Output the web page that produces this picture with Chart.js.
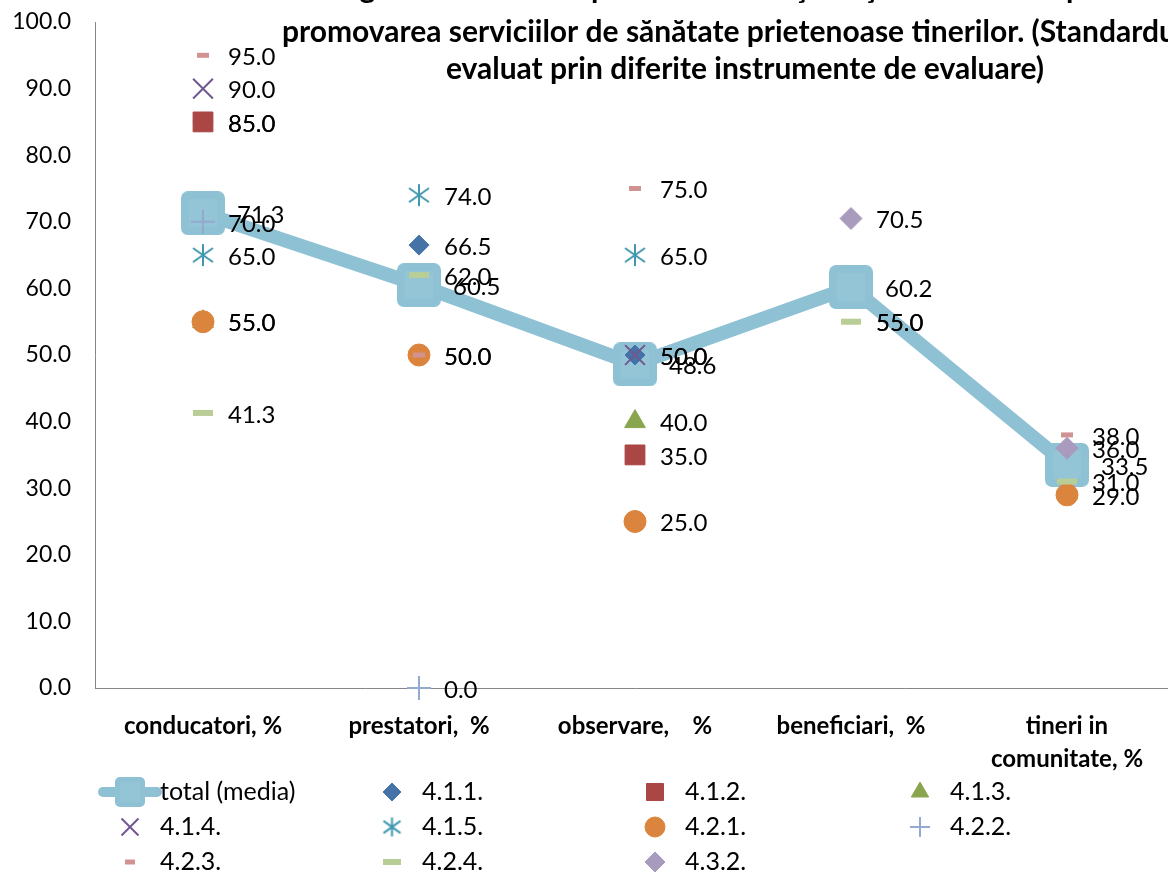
<!DOCTYPE html>
<html><head><meta charset="utf-8">
<script src="https://cdn.jsdelivr.net/npm/chart.js@4/dist/chart.umd.min.js"></script>
<style>
html,body{margin:0;padding:0;overflow:hidden;background:#fff;width:1168px;height:873px}
#wrap{position:absolute;left:0;top:0;width:1180px;height:873px}
</style></head>
<body><div id="wrap"><canvas id="c" width="1180" height="873"></canvas></div>
<script>
// ---- data ----
const categories = ["conducatori, %", "prestatori,  %", "observare,    %", "beneficiari,  %", ["tineri in", "comunitate, %"]];
const seriesNames = ["total (media)", "4.1.1.", "4.1.2.", "4.1.3.", "4.1.4.", "4.1.5.", "4.2.1.", "4.2.2.", "4.2.3.", "4.2.4.", "4.3.2."];
const totalMedia = [71.3, 60.5, 48.6, 60.2, 33.5];
const s411 = [85.0, 66.5, 50.0, null, null];
const s412 = [85.0, null, 35.0, null, null];
const s413 = [55.0, null, 40.0, null, null];
const s414 = [90.0, null, 50.0, null, null];
const s415 = [65.0, 74.0, 65.0, null, null];
const s421 = [55.0, 50.0, 25.0, null, 29.0];
const s422 = [70.0, 0.0, null, null, null];
const s423 = [95.0, 50.0, 75.0, 55.0, 38.0];
const s424 = [41.3, 62.0, null, 55.0, 31.0];
const s432 = [null, null, null, 70.5, 36.0];
const yTicks = [0, 10, 20, 30, 40, 50, 60, 70, 80, 90, 100];
const titleLines = [
  "Fig. 4. Gradul de implicare a instituţiilor şi comunitatea pentru",
  "promovarea serviciilor de sănătate prietenoase tinerilor. (Standardul 4",
  "evaluat prin diferite instrumente de evaluare)"
];

// ---- custom marker images (style only) ----
function roundSquare(size, rad, color, inner) {
  const c = document.createElement('canvas');
  c.width = size; c.height = size;
  const g = c.getContext('2d');
  g.fillStyle = color;
  g.beginPath();
  if (g.roundRect) g.roundRect(0, 0, size, size, rad); else g.rect(0, 0, size, size);
  g.fill();
  const m = Math.round(size * 0.18);
  g.fillStyle = inner;
  g.fillRect(m, m, size - 2 * m, size - 2 * m);
  return c;
}
function asterisk(w, h, color, lw) {
  const c = document.createElement('canvas');
  c.width = w + 4; c.height = h + 4;
  const g = c.getContext('2d');
  const cx = c.width / 2, cy = c.height / 2;
  g.strokeStyle = color; g.lineWidth = lw;
  g.beginPath();
  g.moveTo(cx, cy - h / 2); g.lineTo(cx, cy + h / 2);
  g.moveTo(cx - w / 2, cy - h * 0.32); g.lineTo(cx + w / 2, cy + h * 0.32);
  g.moveTo(cx - w / 2, cy + h * 0.32); g.lineTo(cx + w / 2, cy - h * 0.32);
  g.stroke();
  return c;
}
const totalMarker = roundSquare(44, 7, '#8fc1d4', '#93c5d7');
const totalLegendMarker = roundSquare(30, 5, '#8fc1d4', '#93c5d7');
const starMarker = asterisk(20, 22, '#4198af', 2);
const starLegendMarker = asterisk(17, 19, '#4198af', 2);

// ---- styles ----
const values = [totalMedia, s411, s412, s413, s414, s415, s421, s422, s423, s424, s432];
const styles = [
  {color: '#8fc1d4', style: totalMarker, lstyle: totalLegendMarker, r: 22, bw: 0, line: 14, off: 34, lr: 15},
  {color: '#4572a7', style: 'rectRot', r: 10, bw: 1, off: 25, lr: 9},
  {color: '#aa4643', style: 'rect', r: 14, bw: 1, off: 25, lr: 12},
  {color: '#89a54e', style: 'triangle', r: 12, bw: 1, off: 25, lr: 10},
  {color: '#71588f', style: 'crossRot', r: 14, bw: 2, off: 25, lr: 12},
  {color: '#4198af', style: starMarker, lstyle: starLegendMarker, r: 11, bw: 2, off: 25, lr: 10},
  {color: '#db843d', style: 'circle', r: 11, bw: 1, off: 25, lr: 10},
  {color: '#93a9cf', style: 'cross', r: 12, bw: 2, off: 25, lr: 10},
  {color: '#d19392', style: 'line', r: 6, bw: 5, off: 25, lr: 5},
  {color: '#b9cd96', style: 'line', r: 10, bw: 6, off: 25, lr: 9},
  {color: '#a99bbd', style: 'rectRot', r: 11, bw: 1, off: 25, lr: 10}
];

const datasets = values.map((v, i) => {
  const s = styles[i];
  return {
    label: seriesNames[i],
    data: v,
    order: 50 - i,
    clip: false,
    showLine: !!s.line,
    borderColor: s.color,
    backgroundColor: s.color,
    borderWidth: s.line || 0,
    pointStyle: s.style,
    pointRadius: s.r,
    pointHoverRadius: s.r,
    pointBorderWidth: s.bw,
    pointBorderColor: s.color,
    pointBackgroundColor: s.color,
    tension: 0
  };
});

const FONT = 'Lato';

const labelPlugin = {
  id: 'valLabels',
  afterDatasetsDraw(chart) {
    const ctx = chart.ctx;
    ctx.save();
    ctx.font = '24px ' + FONT;
    ctx.fillStyle = '#000';
    ctx.textBaseline = 'middle';
    ctx.textAlign = 'left';
    chart.data.datasets.forEach((ds, i) => {
      const meta = chart.getDatasetMeta(i);
      meta.data.forEach((pt, j) => {
        const v = ds.data[j];
        if (v === null || v === undefined) return;
        ctx.fillText(v.toFixed(1), pt.x + styles[i].off, pt.y + 2);
      });
    });
    ctx.restore();
  }
};

const titlePlugin = {
  id: 'topTitle',
  afterDraw(chart) {
    const ctx = chart.ctx;
    ctx.save();
    ctx.font = 'bold 30px ' + FONT;
    ctx.fillStyle = '#000';
    ctx.textAlign = 'center';
    ctx.textBaseline = 'middle';
    const ys = [-12, 32, 69];
    titleLines.forEach((t, k) => ctx.fillText(t, 745, ys[k]));
    ctx.restore();
  }
};

const legendPlugin = {
  id: 'gridLegend',
  afterDraw(chart) {
    const ctx = chart.ctx;
    ctx.save();
    const colX = [130, 392, 655, 920];
    const rowY = [792, 827, 862];
    chart.data.datasets.forEach((ds, i) => {
      const s = styles[i];
      const x = colX[i % 4], y = rowY[Math.floor(i / 4)];
      ctx.strokeStyle = s.color;
      ctx.fillStyle = s.color;
      if (s.line) {
        ctx.lineWidth = 10;
        ctx.lineCap = 'round';
        ctx.beginPath(); ctx.moveTo(x - 27, y); ctx.lineTo(x + 27, y); ctx.stroke();
      }
      ctx.lineWidth = s.bw;
      ctx.lineCap = 'butt';
      Chart.helpers.drawPoint(ctx, {pointStyle: s.lstyle || s.style, radius: s.lr, rotation: 0, borderWidth: s.bw}, x, y);
      ctx.font = '25px ' + FONT;
      ctx.fillStyle = '#000';
      ctx.textAlign = 'left';
      ctx.textBaseline = 'middle';
      ctx.fillText(ds.label, x + 30, y);
    });
    ctx.restore();
  }
};

new Chart(document.getElementById('c'), {
  type: 'line',
  data: {labels: categories, datasets: datasets},
  options: {
    responsive: false,
    animation: false,
    events: [],
    layout: {autoPadding: false, padding: {top: 22, right: 5, left: 0, bottom: 0}},
    plugins: {legend: {display: false}, title: {display: false}, tooltip: {enabled: false}},
    scales: {
      x: {
        type: 'category',
        offset: true,
        grid: {display: false, drawTicks: false},
        border: {display: true, color: '#868686', width: 1},
        ticks: {color: '#000', font: {family: FONT, size: 24, weight: 'bold', lineHeight: 1.38}, padding: 22, maxRotation: 0, autoSkip: false},
        afterFit(s) { s.height = 873 - 688; s.paddingLeft = 0; s.paddingRight = 0; }
      },
      y: {
        min: 0, max: 100,
        afterBuildTicks(s) { s.ticks = yTicks.map(v => ({value: v})); },
        grid: {display: false, drawTicks: false},
        border: {display: true, color: '#868686', width: 1},
        ticks: {color: '#000', font: {family: FONT, size: 23}, padding: 24, callback: v => Number(v).toFixed(1)},
        afterFit(s) { s.width = 95; s.paddingTop = 0; s.paddingBottom = 0; }
      }
    }
  },
  plugins: [labelPlugin, titlePlugin, legendPlugin]
});
</script>
</body></html>
